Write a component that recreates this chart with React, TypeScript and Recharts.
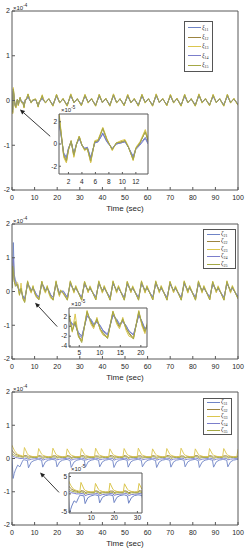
import React from 'react'
import { LineChart, Line, XAxis, YAxis, ReferenceLine, Legend } from 'recharts'

// ---- subplot 1: xi_1j, values in 1e-5 ----
const time1 = [
  0, 0.3, 0.6, 1.0, 1.3, 1.7, 2.0, 2.4, 2.8, 3.2, 3.6, 4.0, 4.4, 4.8, 5.3, 5.9, 6.4, 7.1, 7.7, 8.5,
  9.1, 9.8, 10.4, 10.9, 11.6, 12.0, 12.6, 13.4, 13.8, 14.8, 16.3, 18.1,
  19.7, 21.1, 22.6, 24.4, 26.0, 27.4, 28.9, 30.7, 32.3, 33.7, 35.2, 37.0,
  38.6, 40.0, 41.5, 43.3, 44.9, 46.3, 47.8, 49.6, 51.2, 52.6, 54.1, 55.9,
  57.5, 58.9, 60.4, 62.2, 63.8, 65.2, 66.7, 68.5, 70.1, 71.5, 73.0, 74.8,
  76.4, 77.8, 79.3, 81.1, 82.7, 84.1, 85.6, 87.4, 89.0, 90.4, 91.9, 93.7,
  95.3, 96.7, 98.2, 100.0,
]
const xi11 = [
  0, -2.2, 2.2, 0.4, -0.8, -1.2, -0.4, 0.2, -0.8, 0.0, 0.5, -0.1, -0.4, -0.3, -1.2, 0.1, 0.2, 1.0, 0.2, -0.4,
  0.0, 0.1, 0.2, -0.3, -1.1, -0.4, 0.0, 0.6, 0.1, -0.4, 0.3, -0.9,
  1.0, -0.4, 0.3, -1.0, 1.1, -0.4, 0.3, -0.9, 1.0, -0.3, 0.3, -1.0,
  1.0, -0.4, 0.4, -0.9, 1.1, -0.4, 0.3, -1.0, 1.0, -0.4, 0.3, -0.9,
  1.0, -0.3, 0.3, -1.0, 1.1, -0.4, 0.3, -0.9, 1.0, -0.4, 0.4, -1.0,
  1.0, -0.4, 0.3, -0.9, 1.1, -0.3, 0.3, -1.0, 1.0, -0.4, 0.3, -0.9,
  1.0, -0.4, 0.3, -0.8,
]
const xi12 = [
  0, -2.8, 2.6, 0.5, -1.1, -1.6, -0.5, 0.3, -1.1, 0.0, 0.7, -0.1, -0.5, -0.4, -1.6, 0.2, 0.3, 1.4, 0.4, -0.5,
  0.1, 0.2, 0.3, -0.3, -1.4, -0.4, 0.1, 1.1, 0.3, -0.5, 0.4, -1.2,
  1.3, -0.5, 0.4, -1.2, 1.4, -0.5, 0.4, -1.1, 1.3, -0.4, 0.4, -1.2,
  1.3, -0.5, 0.5, -1.2, 1.4, -0.5, 0.4, -1.1, 1.3, -0.5, 0.4, -1.2,
  1.3, -0.4, 0.4, -1.2, 1.4, -0.5, 0.4, -1.1, 1.3, -0.5, 0.5, -1.2,
  1.3, -0.5, 0.4, -1.2, 1.4, -0.4, 0.4, -1.1, 1.3, -0.5, 0.4, -1.2,
  1.3, -0.5, 0.4, -1.0,
]
const xi13 = [
  0, -3.0, 2.9, 0.6, -1.2, -1.7, -0.6, 0.3, -1.2, 0.0, 0.7, -0.1, -0.6, -0.4, -1.7, 0.3, 0.4, 1.5, 0.5, -0.6,
  0.1, 0.3, 0.4, -0.2, -1.5, -0.3, 0.2, 1.3, 0.5, -0.6, 0.4, -1.3,
  1.4, -0.6, 0.5, -1.3, 1.5, -0.5, 0.4, -1.2, 1.4, -0.6, 0.5, -1.3,
  1.4, -0.5, 0.5, -1.3, 1.5, -0.6, 0.4, -1.2, 1.4, -0.5, 0.5, -1.3,
  1.4, -0.6, 0.4, -1.3, 1.5, -0.5, 0.5, -1.2, 1.4, -0.6, 0.5, -1.3,
  1.4, -0.5, 0.4, -1.3, 1.5, -0.6, 0.5, -1.2, 1.4, -0.5, 0.4, -1.3,
  1.4, -0.6, 0.5, -1.1,
]
const xi14 = [
  0, -2.0, 2.0, 0.4, -0.9, -1.3, -0.4, 0.2, -0.9, 0.0, 0.5, -0.1, -0.4, -0.3, -1.3, 0.1, 0.2, 0.9, 0.2, -0.4,
  0.0, 0.1, 0.2, -0.3, -1.2, -0.5, -0.1, 0.5, 0.0, -0.4, 0.3, -1.0,
  0.9, -0.4, 0.3, -1.0, 1.0, -0.4, 0.3, -0.9, 0.9, -0.3, 0.3, -1.0,
  0.9, -0.4, 0.3, -1.0, 1.0, -0.4, 0.3, -0.9, 0.9, -0.4, 0.3, -1.0,
  0.9, -0.3, 0.3, -1.0, 1.0, -0.4, 0.3, -0.9, 0.9, -0.4, 0.3, -1.0,
  0.9, -0.4, 0.3, -1.0, 1.0, -0.3, 0.3, -0.9, 0.9, -0.4, 0.3, -1.0,
  0.9, -0.4, 0.3, -0.8,
]
const xi15 = [
  0, -2.6, 2.5, 0.5, -1.0, -1.5, -0.5, 0.25, -1.0, 0.0, 0.65, -0.1, -0.5, -0.4, -1.5, 0.2, 0.3, 1.4, 0.4, -0.5,
  0.1, 0.15, 0.3, -0.3, -1.4, -0.4, 0.1, 1.1, 0.3, -0.5, 0.4, -1.2,
  1.3, -0.5, 0.4, -1.2, 1.3, -0.5, 0.4, -1.1, 1.2, -0.5, 0.4, -1.2,
  1.3, -0.4, 0.4, -1.2, 1.3, -0.5, 0.4, -1.1, 1.2, -0.5, 0.4, -1.2,
  1.3, -0.5, 0.4, -1.2, 1.3, -0.4, 0.4, -1.1, 1.2, -0.5, 0.4, -1.2,
  1.3, -0.5, 0.4, -1.2, 1.3, -0.5, 0.4, -1.1, 1.2, -0.5, 0.4, -1.2,
  1.3, -0.5, 0.4, -1.0,
]

// ---- subplot 2: zeta_2j, values in 1e-5 ----
const time2 = [
  0, 0.3, 0.6, 1.0, 1.5, 2.0,
  2.5, 3.3, 4.0, 4.8, 5.6, 6.9, 7.8, 8.5, 9.3, 10.1, 10.8, 11.9,
  13.2, 14.1, 14.8, 15.6, 16.4, 17.1, 18.2, 19.5, 20.3, 21.0, 21.5,
  22.7, 24.5,
  25.8, 27.4, 28.2, 30.8, 32.1, 33.7, 34.5, 37.1, 38.4, 40.0, 40.8, 43.4,
  44.7, 46.3, 47.1, 49.7, 51.0, 52.6, 53.4, 56.0, 57.3, 58.9, 59.7, 62.3,
  63.6, 65.2, 66.0, 68.6, 69.9, 71.5, 72.3, 74.9, 76.2, 77.8, 78.6, 81.2,
  82.5, 84.1, 84.9, 87.5, 88.8, 90.4, 91.2, 93.8, 95.1, 96.7, 97.5, 100.0,
]
const zeta21 = [
  1.0, 6.0, 14.5, 5.0, 3.5, 2.5,
  1.5, 0.5, 0.5, -1.2, -2.0, 2.0, 1.5, 0.5, 1.0, 0.2, -1.0, -1.8,
  2.2, 1.5, 0.5, 1.0, 0.2, -1.0, -1.8, 2.2, 1.0, -0.5, 0.0,
  0.2, -1.8,
  2.2, 0.5, 1.0, -1.8, 2.1, 0.4, 1.0, -1.7, 2.2, 0.5, 1.1, -1.8,
  2.2, 0.5, 1.0, -1.8, 2.1, 0.4, 1.0, -1.8, 2.2, 0.5, 1.1, -1.7,
  2.2, 0.5, 1.0, -1.8, 2.1, 0.4, 1.0, -1.8, 2.2, 0.5, 1.1, -1.8,
  2.2, 0.5, 1.0, -1.7, 2.1, 0.4, 1.0, -1.8, 2.2, 0.5, 1.0, -1.5,
]
const zeta22 = [
  1.0, 5.0, 7.0, 3.0, 2.0, 1.8,
  2.2, -0.8, 0.8, -1.8, -3.0, 2.8, 0.8, -0.2, 1.3, -0.6, -1.3, -2.3,
  2.8, 0.8, -0.2, 1.3, -0.5, -1.3, -2.4, 2.8, 0.3, -1.2, 0.2,
  -0.5, -2.4,
  2.8, -0.2, 1.3, -2.4, 2.7, -0.2, 1.2, -2.3, 2.8, -0.3, 1.3, -2.4,
  2.8, -0.2, 1.3, -2.4, 2.7, -0.2, 1.2, -2.4, 2.8, -0.3, 1.3, -2.3,
  2.8, -0.2, 1.3, -2.4, 2.7, -0.2, 1.2, -2.4, 2.8, -0.3, 1.3, -2.4,
  2.8, -0.2, 1.3, -2.3, 2.7, -0.2, 1.2, -2.4, 2.8, -0.3, 1.3, -2.0,
]
const zeta23 = [
  1.0, 7.0, 8.5, 3.5, 2.0, 2.8,
  2.6, -1.2, 2.5, -2.2, -3.0, 3.2, 0.5, -0.5, 1.8, -0.8, -1.8, -2.2,
  3.1, 0.5, -0.5, 1.8, -0.8, -2.0, -2.4, 3.2, 0.0, -1.5, 0.5,
  -0.8, -2.5,
  3.2, -0.5, 1.8, -2.5, 3.1, -0.4, 1.7, -2.4, 3.2, -0.5, 1.8, -2.5,
  3.2, -0.5, 1.8, -2.5, 3.1, -0.4, 1.7, -2.5, 3.2, -0.5, 1.8, -2.4,
  3.2, -0.5, 1.8, -2.5, 3.1, -0.4, 1.7, -2.5, 3.2, -0.5, 1.8, -2.5,
  3.2, -0.5, 1.8, -2.4, 3.1, -0.4, 1.7, -2.5, 3.2, -0.5, 1.8, -2.1,
]
const zeta24 = [
  1.0, 4.0, 10.0, 4.0, 3.0, 2.0,
  1.2, 0.3, 0.3, -1.5, -2.3, 2.2, 1.2, 0.3, 0.8, 0.0, -0.8, -1.6,
  2.3, 1.2, 0.3, 0.9, 0.0, -0.9, -1.7, 2.3, 0.8, -0.6, -0.2,
  0.0, -1.7,
  2.3, 0.3, 0.9, -1.7, 2.2, 0.3, 0.8, -1.6, 2.3, 0.4, 0.9, -1.7,
  2.3, 0.3, 0.9, -1.7, 2.2, 0.3, 0.8, -1.7, 2.3, 0.4, 0.9, -1.6,
  2.3, 0.3, 0.9, -1.7, 2.2, 0.3, 0.8, -1.7, 2.3, 0.4, 0.9, -1.7,
  2.3, 0.3, 0.9, -1.6, 2.2, 0.3, 0.8, -1.7, 2.3, 0.4, 0.9, -1.4,
]
const zeta25 = [
  1.0, 7.5, 6.0, 3.0, 1.5, 2.2,
  2.0, -1.0, 1.0, -2.0, -3.3, 3.0, 1.0, 0.0, 1.5, -0.5, -1.5, -2.5,
  3.0, 1.0, 0.0, 1.5, -0.3, -1.5, -2.6, 3.0, 0.5, -1.0, 0.3,
  -0.4, -2.6,
  3.0, 0.0, 1.5, -2.6, 2.9, 0.1, 1.4, -2.5, 3.0, 0.0, 1.5, -2.6,
  3.0, 0.0, 1.5, -2.6, 2.9, 0.1, 1.4, -2.6, 3.0, 0.0, 1.5, -2.5,
  3.0, 0.0, 1.5, -2.6, 2.9, 0.1, 1.4, -2.6, 3.0, 0.0, 1.5, -2.6,
  3.0, 0.0, 1.5, -2.5, 2.9, 0.1, 1.4, -2.6, 3.0, 0.0, 1.5, -2.2,
]

// ---- subplot 3: zeta_3j, values in 1e-5 ----
const time3 = [
  0, 0.5, 1.0, 1.5, 2.5, 3.5, 4.5,
  5.0, 5.5, 6.8, 7.3, 8.5, 9.8, 11.3, 11.8, 13.1, 13.6, 14.8, 16.1,
  17.6, 18.1, 19.4, 19.9, 21.1, 22.4, 23.9, 24.4, 25.7, 26.2, 27.4, 28.7,
  30.2, 30.7, 32.0, 32.5, 33.7, 35.0, 36.5, 37.0, 38.3, 38.8, 40.0, 41.3,
  42.8, 43.3, 44.6, 45.1, 46.3, 47.6, 49.1, 49.6, 50.9, 51.4, 52.6, 53.9,
  55.4, 55.9, 57.2, 57.7, 58.9, 60.2, 61.7, 62.2, 63.5, 64.0, 65.2, 66.5,
  68.0, 68.5, 69.8, 70.3, 71.5, 72.8, 74.3, 74.8, 76.1, 76.6, 77.8, 79.1,
  80.6, 81.1, 82.4, 82.9, 84.1, 85.4, 86.9, 87.4, 88.7, 89.2, 90.4, 91.7,
  93.2, 93.7, 95.0, 95.5, 96.7, 98.0, 99.5, 100.0,
]
const zeta31 = [
  0, -6.0, -4.5, -3.5, -2.0, -2.5, -1.0,
  -0.4, -0.4, -0.6, -2.8, -1.1, -0.6, -0.3, -0.3, -0.5, -2.6, -1.0, -0.5,
  -0.3, -0.3, -0.5, -2.5, -1.0, -0.5, -0.3, -0.3, -0.6, -2.7, -1.1, -0.5,
  -0.3, -0.3, -0.5, -2.6, -1.0, -0.5, -0.3, -0.3, -0.5, -2.5, -1.0, -0.5,
  -0.3, -0.3, -0.6, -2.7, -1.0, -0.5, -0.3, -0.3, -0.5, -2.6, -1.0, -0.5,
  -0.3, -0.3, -0.5, -2.5, -1.1, -0.5, -0.3, -0.3, -0.6, -2.7, -1.0, -0.5,
  -0.3, -0.3, -0.5, -2.6, -1.0, -0.5, -0.3, -0.3, -0.5, -2.5, -1.0, -0.5,
  -0.3, -0.3, -0.6, -2.7, -1.1, -0.5, -0.3, -0.3, -0.5, -2.6, -1.0, -0.5,
  -0.3, -0.3, -0.5, -2.5, -1.0, -0.5, -0.3, -0.3,
]
const zeta32 = [
  2.5, 2.0, 1.6, 1.3, 1.0, 0.8, 0.6,
  0.5, 0.9, 0.8, 0.4, 0.6, 0.5, 0.5, 0.9, 0.7, 0.4, 0.6, 0.5,
  0.5, 0.8, 0.8, 0.4, 0.6, 0.5, 0.5, 0.9, 0.7, 0.3, 0.6, 0.5,
  0.5, 0.9, 0.8, 0.4, 0.6, 0.5, 0.5, 0.8, 0.7, 0.4, 0.6, 0.5,
  0.5, 0.9, 0.8, 0.4, 0.6, 0.5, 0.5, 0.9, 0.7, 0.3, 0.6, 0.5,
  0.5, 0.8, 0.8, 0.4, 0.6, 0.5, 0.5, 0.9, 0.7, 0.4, 0.6, 0.5,
  0.5, 0.9, 0.8, 0.4, 0.6, 0.5, 0.5, 0.8, 0.7, 0.3, 0.6, 0.5,
  0.5, 0.9, 0.8, 0.4, 0.6, 0.5, 0.5, 0.9, 0.7, 0.4, 0.6, 0.5,
  0.5, 0.8, 0.8, 0.4, 0.6, 0.5, 0.5, 0.9,
]
const zeta33 = [
  4.0, 3.2, 2.5, 2.0, 1.2, 1.0, 0.8,
  0.6, 3.3, 1.4, 1.0, 0.7, 0.5, 0.6, 3.0, 1.3, 1.0, 0.7, 0.5,
  0.6, 3.1, 1.3, 1.0, 0.7, 0.5, 0.6, 2.9, 1.3, 1.0, 0.7, 0.5,
  0.6, 3.0, 1.3, 1.0, 0.7, 0.5, 0.6, 3.1, 1.3, 1.0, 0.7, 0.5,
  0.6, 2.9, 1.3, 1.0, 0.7, 0.5, 0.6, 3.0, 1.3, 1.0, 0.7, 0.5,
  0.6, 3.1, 1.3, 1.0, 0.7, 0.5, 0.6, 2.9, 1.3, 1.0, 0.7, 0.5,
  0.6, 3.0, 1.3, 1.0, 0.7, 0.5, 0.6, 3.1, 1.3, 1.0, 0.7, 0.5,
  0.6, 2.9, 1.3, 1.0, 0.7, 0.5, 0.6, 3.0, 1.3, 1.0, 0.7, 0.5,
  0.6, 3.0, 1.3, 1.0, 0.7, 0.5, 0.6, 2.8,
]
const zeta34 = [
  1.0, 0.6, 0.5, 0.3, 0.2, 0.0, 0.0,
  0.0, 0.1, 0.0, -0.5, -0.2, -0.1, 0.0, 0.1, 0.0, -0.5, -0.2, -0.1,
  0.0, 0.1, 0.0, -0.4, -0.2, -0.1, 0.0, 0.1, 0.0, -0.5, -0.2, -0.1,
  0.0, 0.1, 0.0, -0.5, -0.2, -0.1, 0.0, 0.1, 0.0, -0.4, -0.2, -0.1,
  0.0, 0.1, 0.0, -0.5, -0.2, -0.1, 0.0, 0.1, 0.0, -0.5, -0.2, -0.1,
  0.0, 0.1, 0.0, -0.4, -0.2, -0.1, 0.0, 0.1, 0.0, -0.5, -0.2, -0.1,
  0.0, 0.1, 0.0, -0.5, -0.2, -0.1, 0.0, 0.1, 0.0, -0.4, -0.2, -0.1,
  0.0, 0.1, 0.0, -0.5, -0.2, -0.1, 0.0, 0.1, 0.0, -0.5, -0.2, -0.1,
  0.0, 0.1, 0.0, -0.4, -0.2, -0.1, 0.0, 0.1,
]
const zeta35 = [
  1.5, 1.2, 1.0, 0.8, 0.6, 0.5, 0.4,
  0.3, 0.6, 0.4, 0.0, 0.3, 0.3, 0.3, 0.6, 0.4, 0.0, 0.3, 0.3,
  0.3, 0.5, 0.4, 0.1, 0.3, 0.3, 0.3, 0.6, 0.4, 0.0, 0.3, 0.3,
  0.3, 0.6, 0.4, 0.0, 0.3, 0.3, 0.3, 0.5, 0.4, 0.1, 0.3, 0.3,
  0.3, 0.6, 0.4, 0.0, 0.3, 0.3, 0.3, 0.6, 0.4, 0.0, 0.3, 0.3,
  0.3, 0.5, 0.4, 0.1, 0.3, 0.3, 0.3, 0.6, 0.4, 0.0, 0.3, 0.3,
  0.3, 0.6, 0.4, 0.0, 0.3, 0.3, 0.3, 0.5, 0.4, 0.1, 0.3, 0.3,
  0.3, 0.6, 0.4, 0.0, 0.3, 0.3, 0.3, 0.6, 0.4, 0.0, 0.3, 0.3,
  0.3, 0.5, 0.4, 0.1, 0.3, 0.3, 0.3, 0.6,
]

const names1 = ['ξ11', 'ξ12', 'ξ13', 'ξ14', 'ξ15']
const names2 = ['ζ21', 'ζ22', 'ζ23', 'ζ24', 'ζ25']
const names3 = ['ζ31', 'ζ32', 'ζ33', 'ζ34', 'ζ35']

// main axes ticks (y values stored in 1e-5, labelled in 1e-4)
const mainXTicks = [0, 10, 20, 30, 40, 50, 60, 70, 80, 90, 100]
const mainYTicks = [-20, -10, 0, 10, 20]
const inset1XTicks = [2, 4, 6, 8, 10, 12]
const inset1YTicks = [-2, 0, 2]
const inset2XTicks = [5, 10, 15, 20]
const inset2YTicks = [-4, -2, 0, 2]
const inset3XTicks = [10, 20, 30]
const inset3YTicks = [-5, 0, 5]

const lineColors = ['#6f84c6', '#9c8440', '#dbc64e', '#7b7ecb', '#a4a845']
const axisColor = '#595959'
const textColor = '#262626'

function makeRows(t: number[], series: number[][]) {
  return t.map((x, i) => {
    const row: Record<string, number> = { t: x }
    series.forEach((s, j) => { row['s' + j] = s[i] })
    return row
  })
}

function Arrow(p: any) {
  const { x1, y1, x2, y2 } = p
  const ang = Math.atan2(y2 - y1, x2 - x1)
  const L = 5, W = 2.2
  const bx = x2 - L * Math.cos(ang)
  const by = y2 - L * Math.sin(ang)
  const px = -Math.sin(ang) * W
  const py = Math.cos(ang) * W
  return (
    <g>
      <line x1={x1} y1={y1} x2={bx} y2={by} stroke="#222" strokeWidth={0.9} />
      <polygon points={`${x2},${y2} ${bx + px},${by + py} ${bx - px},${by - py}`} fill="#222" />
    </g>
  )
}

function LegendBox(props: any) {
  const items = props.payload || []
  return (
    <div style={{ width: '100%', height: '100%', boxSizing: 'border-box', border: '0.7px solid #555', background: '#fff', display: 'flex', flexDirection: 'column', justifyContent: 'space-evenly' }}>
      {items.map((e: any) => (
        <div key={e.value} style={{ display: 'flex', alignItems: 'center', height: 7 }}>
          <span style={{ display: 'inline-block', width: 13, marginLeft: 3, borderTop: `1px solid ${e.color}` }} />
          <span style={{ fontSize: 6, marginLeft: 1, lineHeight: '7px', color: textColor, fontFamily: "'Liberation Serif', serif", fontStyle: 'italic' }}>
            {e.value[0]}<span style={{ fontSize: 4, fontStyle: 'normal', verticalAlign: '-1.5px' }}>{e.value.slice(1)}</span>
          </span>
        </div>
      ))}
    </div>
  )
}

function Exp({ left, cy, power }: { left: number; cy: number; power: string }) {
  return (
    <div style={{ position: 'absolute', left, top: cy - 4, fontSize: 6, lineHeight: '8px', color: textColor, whiteSpace: 'nowrap' }}>
      ×10<span style={{ fontSize: 4.5, verticalAlign: '2.5px' }}>{power}</span>
    </div>
  )
}

function Panel(p: any) {
  const chartTop = p.top - 11
  const chartH = 11 + p.plotH + 25
  const ins = p.inset
  const tickStyle = { fontSize: 7, fill: textColor }
  const insTick = { fontSize: 6.5, fill: textColor }
  return (
    <>
      <div style={{ position: 'absolute', left: 0, top: chartTop }}>
        <LineChart width={246} height={chartH} data={p.rows} margin={{ top: 10, right: 7, bottom: 0, left: 11 }}>
          <XAxis dataKey="t" type="number" domain={[0, 100]} allowDataOverflow ticks={mainXTicks} interval={0}
            height={25} tickSize={-3} tickMargin={8} stroke={axisColor} tick={tickStyle}
            label={{ value: 'Time (sec)', position: 'insideBottom', offset: 4, fontSize: 8, fill: textColor }} />
          <XAxis xAxisId="top" orientation="top" dataKey="t" type="number" domain={[0, 100]} allowDataOverflow
            ticks={mainXTicks} interval={0} height={1} tickSize={-3} tick={false} stroke={axisColor} />
          <YAxis type="number" domain={[-20, 20]} allowDataOverflow ticks={mainYTicks} interval={0} width={1}
            tickSize={-3} tickMargin={5} tickFormatter={(v: number) => String(v / 10)} stroke={axisColor} tick={tickStyle} />
          <YAxis yAxisId="right" orientation="right" type="number" domain={[-20, 20]} allowDataOverflow
            ticks={mainYTicks} interval={0} width={1} tickSize={-3} tick={false} stroke={axisColor} />
          {p.names.map((n: string, i: number) => (
            <Line key={n} type="linear" dataKey={'s' + i} name={n} stroke={lineColors[i]} strokeWidth={0.9}
              dot={false} activeDot={false} isAnimationActive={false} />
          ))}
          <ReferenceLine segment={[{ x: p.arrow[0][0], y: p.arrow[0][1] }, { x: p.arrow[1][0], y: p.arrow[1][1] }]} shape={Arrow} />
          <Legend layout="horizontal" align="center" verticalAlign="middle"
            wrapperStyle={{ left: p.legend.left, top: p.legend.top - chartTop, width: p.legend.width, height: p.legend.height }}
            content={LegendBox} />
        </LineChart>
      </div>
      <Exp left={13} cy={p.top - 5} power="-4" />
      <div style={{ position: 'absolute', left: ins.left, top: ins.top, width: ins.width, height: ins.height, background: '#fff' }} />
      <div style={{ position: 'absolute', left: ins.left - 11, top: ins.top - 8 }}>
        <LineChart width={ins.width + 13} height={ins.height + 21} data={p.rows} margin={{ top: 7, right: 1, bottom: 0, left: 10 }}>
          <XAxis dataKey="t" type="number" domain={ins.xDomain} allowDataOverflow ticks={ins.xTicks} interval={0}
            height={13} tickSize={-2} tickMargin={ins.xTickMargin} stroke={axisColor} tick={insTick} />
          <XAxis xAxisId="top" orientation="top" dataKey="t" type="number" domain={ins.xDomain} allowDataOverflow
            ticks={ins.xTicks} interval={0} height={1} tickSize={-2} tick={false} stroke={axisColor} />
          <YAxis type="number" domain={ins.yDomain} allowDataOverflow ticks={ins.yTicks} interval={0} width={1}
            tickSize={-2} tickMargin={4} stroke={axisColor} tick={insTick} />
          <YAxis yAxisId="right" orientation="right" type="number" domain={ins.yDomain} allowDataOverflow
            ticks={ins.yTicks} interval={0} width={1} tickSize={-2} tick={false} stroke={axisColor} />
          {p.names.map((n: string, i: number) => (
            <Line key={n} type="linear" dataKey={'s' + i} name={n} stroke={lineColors[i]} strokeWidth={1}
              dot={false} activeDot={false} isAnimationActive={false} />
          ))}
        </LineChart>
      </div>
      <Exp left={ins.left + 2} cy={ins.top - 6} power="-5" />
    </>
  )
}

export default function App() {
  const rows1 = makeRows(time1, [xi11, xi12, xi13, xi14, xi15])
  const rows2 = makeRows(time2, [zeta21, zeta22, zeta23, zeta24, zeta25])
  const rows3 = makeRows(time3, [zeta31, zeta32, zeta33, zeta34, zeta35])

  return (
    <div style={{ position: 'absolute', left: 0, top: 0, width: 246, height: 550, background: '#fff', overflow: 'hidden', fontFamily: "'Liberation Sans', Arial, sans-serif" }}>
      <Panel rows={rows1} names={names1} top={11} plotH={179}
        legend={{ left: 184, top: 21, width: 29, height: 51 }}
        arrow={[[16.9, -8.0], [3.5, -2.0]]}
        inset={{ left: 59, top: 114, width: 89, height: 60, xDomain: [0.6, 13.8], yDomain: [-2.7, 2.7], xTicks: inset1XTicks, yTicks: inset1YTicks, xTickMargin: 7 }} />
      <Panel rows={rows2} names={names2} top={224} plotH={135}
        legend={{ left: 203, top: 229, width: 33, height: 40 }}
        arrow={[[20.0, -10.4], [10.2, -3.3]]}
        inset={{ left: 69, top: 308, width: 78, height: 39, xDomain: [2.5, 21.5], yDomain: [-4.2, 3.7], xTicks: inset2XTicks, yTicks: inset2YTicks, xTickMargin: 5 }} />
      <Panel rows={rows3} names={names3} top={392} plotH={133}
        legend={{ left: 203, top: 398, width: 29, height: 37 }}
        arrow={[[20.8, -10.2], [12.4, -4.2]]}
        inset={{ left: 69, top: 473, width: 73, height: 40, xDomain: [0.3, 32], yDomain: [-5.5, 6], xTicks: inset3XTicks, yTicks: inset3YTicks, xTickMargin: 4 }} />
    </div>
  )
}
